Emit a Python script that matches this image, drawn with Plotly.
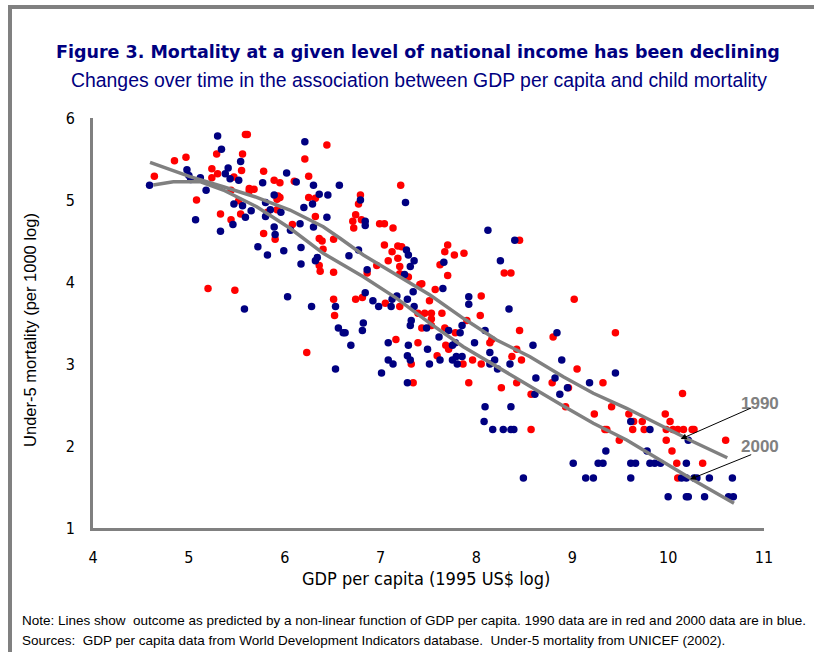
import plotly.graph_objects as go

# ---- data ----
gdp_1990 = [5.59, 5.61, 6.44, 5.29, 5.56, 6.21, 4.85, 4.97, 4.64, 5.24, 5.30, 5.24, 5.55, 5.47, 5.78,
            5.89, 5.95, 6.10, 6.25, 5.44, 5.63, 5.68, 5.63, 5.93, 5.95, 5.92, 6.25, 6.32, 5.08, 5.52,
            5.82, 5.92, 5.33, 5.54, 5.44, 6.32, 6.08, 5.78, 5.90, 6.36, 6.39, 6.51, 6.40, 6.36, 6.37,
            6.51, 5.20, 5.48, 6.51, 6.52, 6.23, 7.21, 6.79, 6.77, 6.74, 6.71, 6.80, 6.72, 6.99, 7.04,
            7.13, 8.45, 7.04, 7.18, 7.22, 7.12, 7.70, 7.67, 7.77, 7.87, 7.18, 7.08, 7.20, 6.96, 6.86,
            7.20, 7.29, 7.62, 7.70, 8.29, 8.36, 7.41, 7.43, 7.57, 6.74, 6.81, 7.05, 7.51, 8.05, 9.02,
            7.20, 7.39, 7.46, 7.53, 7.53, 7.64, 8.04, 7.90, 7.43, 7.53, 7.67, 7.78, 7.16, 7.39, 7.68,
            7.71, 8.14, 8.16, 8.45, 8.42, 8.80, 7.59, 7.32, 7.86, 7.96, 8.05, 8.37, 8.47, 9.05, 7.34,
            7.92, 8.26, 8.42, 8.79, 8.96, 8.57, 8.93, 8.57, 9.45, 9.32, 9.41, 9.23, 9.59, 9.97, 10.15,
            10.02, 9.64, 9.73, 9.63, 9.75, 9.34, 9.36, 9.98, 10.05, 10.10, 10.16, 10.25, 10.27, 9.49,
            9.98, 10.60, 10.04, 10.09, 10.36, 10.10]
u5m_1990 = [5.80, 5.80, 5.67, 5.56, 5.56, 5.50, 5.48, 5.52, 5.29, 5.38, 5.32, 5.27, 5.36, 5.28, 5.35,
            5.24, 5.21, 5.23, 5.29, 5.12, 5.14, 5.13, 5.11, 5.05, 5.03, 5.01, 5.03, 5.02, 5.00, 4.99,
            4.85, 4.88, 4.83, 4.83, 4.76, 4.80, 4.70, 4.59, 4.52, 4.53, 4.50, 4.52, 4.40, 4.20, 4.13,
            4.12, 3.92, 3.90, 3.79, 3.59, 3.14, 5.18, 5.06, 4.95, 4.82, 4.74, 4.76, 4.66, 4.71, 4.71,
            4.66, 4.51, 4.45, 4.44, 4.43, 4.37, 4.45, 4.37, 4.33, 4.35, 4.29, 4.26, 4.19, 4.20, 4.11,
            4.10, 4.06, 4.21, 4.08, 4.11, 4.11, 3.97, 3.98, 3.91, 3.79, 3.81, 3.74, 3.77, 3.83, 3.79,
            3.70, 3.62, 3.62, 3.62, 3.55, 3.62, 3.59, 3.53, 3.44, 3.47, 3.44, 3.38, 3.30, 3.26, 3.23,
            3.18, 3.26, 3.30, 3.41, 3.18, 3.33, 3.10, 3.00, 3.00, 3.05, 3.00, 3.09, 3.05, 2.94, 2.77,
            2.77, 2.71, 2.77, 2.77, 2.71, 2.63, 2.48, 2.20, 3.38, 2.77, 2.48, 2.39, 2.39, 2.39, 2.64,
            2.30, 2.30, 2.30, 2.20, 2.20, 2.20, 2.20, 2.20, 2.20, 2.20, 2.20, 2.20, 2.20, 2.07,
            2.07, 2.07, 1.94, 1.79, 1.79, 1.61]

gdp_2000 = [5.30, 5.34, 6.21, 4.98, 5.00, 5.02, 5.12, 4.59, 5.18, 5.41, 5.38, 5.43, 5.52, 5.54, 5.77,
            6.02, 6.12, 5.89, 5.80, 5.47, 5.56, 5.65, 5.85, 5.96, 5.80, 5.59, 5.46, 5.07, 5.33, 5.89,
            5.90, 6.06, 6.16, 6.20, 6.29, 6.36, 6.45, 6.30, 6.57, 6.30, 6.44, 5.72, 5.82, 5.99, 6.17,
            6.17, 6.34, 6.32, 6.03, 6.28, 5.58, 6.53, 6.56, 6.53, 6.79, 7.26, 6.84, 6.84, 8.12, 8.40,
            7.27, 7.29, 6.67, 6.77, 7.35, 7.31, 6.86, 7.25, 7.66, 8.25, 7.65, 7.34, 6.84, 6.92, 6.98,
            7.12, 7.17, 7.28, 7.92, 7.92, 8.34, 7.35, 7.11, 7.85, 7.48, 7.71, 7.83, 7.32, 7.31, 6.82,
            6.81, 6.61, 6.63, 6.69, 7.61, 7.08, 7.29, 7.49, 7.75, 7.78, 7.98, 8.09, 8.59, 8.84, 8.14,
            7.28, 7.31, 7.08, 7.13, 7.51, 7.62, 7.75, 7.79, 7.85, 7.80, 8.14, 8.19, 8.22, 8.35, 8.89,
            7.01, 7.28, 8.62, 8.82, 8.95, 8.61, 8.87, 8.09, 8.36, 8.08, 8.17, 8.28, 8.36, 8.39, 9.01,
            8.49, 9.45, 9.18, 9.61, 9.81, 10.21, 9.35, 9.78, 9.27, 9.32, 9.61, 9.66, 9.81, 9.86, 9.92,
            10.19, 9.14, 9.22, 9.61, 10.14, 10.19, 10.27, 10.30, 10.43, 10.67, 10.00, 10.19, 10.21,
            10.38, 10.63, 10.68]
u5m_2000 = [5.78, 5.62, 5.71, 5.37, 5.30, 5.25, 5.27, 5.18, 5.12, 5.39, 5.32, 5.26, 5.24, 5.47, 5.21,
            5.33, 5.22, 5.06, 4.97, 4.95, 4.93, 4.87, 4.88, 4.85, 4.80, 4.79, 4.70, 4.76, 4.62, 4.67,
            4.58, 4.63, 4.71, 4.91, 4.95, 5.07, 5.06, 5.18, 5.18, 4.67, 4.79, 4.43, 4.33, 4.38, 4.42,
            4.22, 4.30, 4.26, 3.82, 3.70, 3.67, 3.70, 3.44, 2.94, 5.00, 4.97, 4.74, 4.69, 4.63, 4.51,
            4.39, 4.33, 4.32, 4.39, 4.26, 4.19, 4.15, 4.09, 4.24, 4.26, 3.92, 3.88, 3.87, 3.77, 3.70,
            3.79, 3.83, 3.79, 3.82, 3.73, 3.67, 3.70, 3.70, 3.47, 3.44, 3.41, 3.38, 3.53, 3.47, 3.50,
            3.41, 3.38, 3.38, 3.23, 3.33, 3.26, 3.23, 3.18, 3.23, 3.26, 3.26, 3.41, 3.23, 3.38, 3.14,
            3.10, 3.05, 3.05, 3.00, 3.00, 3.05, 3.05, 3.09, 3.09, 3.00, 3.00, 3.05, 2.94, 3.00, 3.05,
            2.89, 2.77, 2.83, 2.83, 2.71, 2.63, 2.63, 2.48, 2.48, 2.30, 2.20, 2.20, 2.20, 2.20, 1.79,
            1.61, 2.89, 2.77, 2.30, 2.20, 2.07, 1.94, 1.94, 1.79, 1.79, 1.79, 1.79, 1.79, 1.79, 1.79,
            1.79, 1.61, 1.61, 1.61, 1.61, 1.61, 1.61, 1.61, 1.61, 1.61, 1.38, 1.38, 1.38,
            1.38, 1.38, 1.38]

fit_x_1990 = [4.595, 5.012, 5.359, 5.708, 6.055, 6.402, 6.577, 6.820, 7.168, 7.516, 7.863, 8.211,
              8.559, 8.906, 9.219, 9.567, 9.915, 10.262, 10.617]
fit_y_1990 = [5.460, 5.284, 5.162, 5.033, 4.878, 4.674, 4.533, 4.329, 4.085, 3.841, 3.557, 3.293,
              3.089, 2.845, 2.643, 2.460, 2.256, 2.052, 1.857]
fit_x_2000 = [4.629, 4.838, 5.116, 5.359, 5.708, 6.055, 6.402, 6.577, 6.820, 7.168, 7.516, 7.863,
              8.211, 8.559, 8.906, 9.219, 9.567, 9.915, 10.262, 10.687]
fit_y_2000 = [5.183, 5.223, 5.223, 5.122, 4.918, 4.655, 4.350, 4.228, 4.065, 3.801, 3.496, 3.211,
              2.967, 2.723, 2.488, 2.277, 2.073, 1.829, 1.585, 1.301]

x_ticks = [4, 5, 6, 7, 8, 9, 10, 11]
y_ticks = [1, 2, 3, 4, 5, 6]

NAVY = "#000080"
GRAY = "#808080"
TICKFONT = "DejaVu Sans Condensed, Tahoma, sans-serif"
ARIAL = "Liberation Sans, Arial, sans-serif"

fig = go.Figure()
fig.add_trace(go.Scatter(x=gdp_1990, y=u5m_1990, mode="markers", name="1990",
                         marker=dict(color="#FF0000", size=7.5, line=dict(width=0))))
fig.add_trace(go.Scatter(x=gdp_2000, y=u5m_2000, mode="markers", name="2000",
                         marker=dict(color=NAVY, size=7.5, line=dict(width=0))))
fig.add_trace(go.Scatter(x=fit_x_1990, y=fit_y_1990, mode="lines", name="fit 1990",
                         line=dict(color=GRAY, width=3.5)))
fig.add_trace(go.Scatter(x=fit_x_2000, y=fit_y_2000, mode="lines", name="fit 2000",
                         line=dict(color=GRAY, width=3.5)))

fig.update_layout(
    width=814, height=652,
    margin=dict(l=93, r=50, t=118, b=124, autoexpand=False),
    paper_bgcolor="white", plot_bgcolor="white",
    showlegend=False,
    xaxis=dict(range=[4, 11], tickvals=x_ticks, showgrid=False, zeroline=False,
               showline=True, linecolor=GRAY, linewidth=3, ticks="",
               ticklabelstandoff=13,
               tickfont=dict(family=TICKFONT, size=16, color="black")),
    yaxis=dict(range=[1, 6], tickvals=y_ticks, showgrid=False, zeroline=False,
               showline=True, linecolor=GRAY, linewidth=3, ticks="",
               ticklabelstandoff=12,
               tickfont=dict(family=TICKFONT, size=16, color="black")),
)

annotations = [
    dict(text="<b>Figure 3. Mortality at a given level of national income has been declining</b>",
         xref="paper", yref="paper", x=0.4844, y=1.161, xanchor="center", yanchor="middle",
         showarrow=False,
         font=dict(family="DejaVu Sans, Tahoma, sans-serif", size=17.5, color=NAVY)),
    dict(text="Changes over time in the association between GDP per capita and child mortality",
         xref="paper", yref="paper", x=0.486, y=1.0927, xanchor="center", yanchor="middle",
         showarrow=False, font=dict(family=ARIAL, size=19.4, color=NAVY)),
    dict(text="GDP per capita (1995 US$ log)", xref="paper", yref="paper", x=0.4963, y=-0.124,
         xanchor="center", yanchor="middle",
         showarrow=False, font=dict(family=TICKFONT, size=18, color="black")),
    dict(text="Under-5 mortality (per 1000 log)", xref="paper", yref="paper", x=-0.0939, y=0.483,
         xanchor="center", yanchor="middle", textangle=-90, showarrow=False,
         font=dict(family=ARIAL, size=16.5, color="black")),
    dict(text="Note: Lines show  outcome as predicted by a non-linear function of GDP per capita. "
              "1990 data are in red and 2000 data are in blue.",
         xref="paper", yref="paper", x=-0.1088, y=-0.2244, xanchor="left", yanchor="middle",
         showarrow=False, font=dict(family=ARIAL, size=13.5, color="black")),
    dict(text="Sources:  GDP per capita data from World Development Indicators database.  "
              "Under-5 mortality from UNICEF (2002).",
         xref="paper", yref="paper", x=-0.1088, y=-0.2732, xanchor="left", yanchor="middle",
         showarrow=False, font=dict(family=ARIAL, size=13.5, color="black")),
    dict(text="<b>1990</b>", xref="x", yref="y", x=10.958, y=2.524, xanchor="center",
         yanchor="middle", showarrow=False, font=dict(family=ARIAL, size=17, color=GRAY)),
    dict(text="<b>2000</b>", xref="x", yref="y", x=10.958, y=2.0, xanchor="center",
         yanchor="middle", showarrow=False, font=dict(family=ARIAL, size=17, color=GRAY)),
    dict(text="", xref="x", yref="y", x=10.131, y=2.085, axref="x", ayref="y",
         ax=10.882, ay=2.472, showarrow=True, arrowhead=2, arrowsize=1.2, arrowwidth=1,
         arrowcolor="black"),
    dict(text="", xref="x", yref="y", x=10.228, y=1.594, axref="x", ayref="y",
         ax=10.882, ay=1.902, showarrow=True, arrowhead=2, arrowsize=1.2, arrowwidth=1,
         arrowcolor="black"),
]
fig.update_layout(annotations=annotations)

fig.add_shape(type="rect", xref="paper", yref="paper", x0=-0.1237, x1=1.3, y0=-0.4, y1=1.2707,
              line=dict(color=GRAY, width=4), fillcolor="rgba(0,0,0,0)", layer="below")

fig.write_html("out.html", config={"displayModeBar": False},
               post_script="document.body.style.margin='0';")
